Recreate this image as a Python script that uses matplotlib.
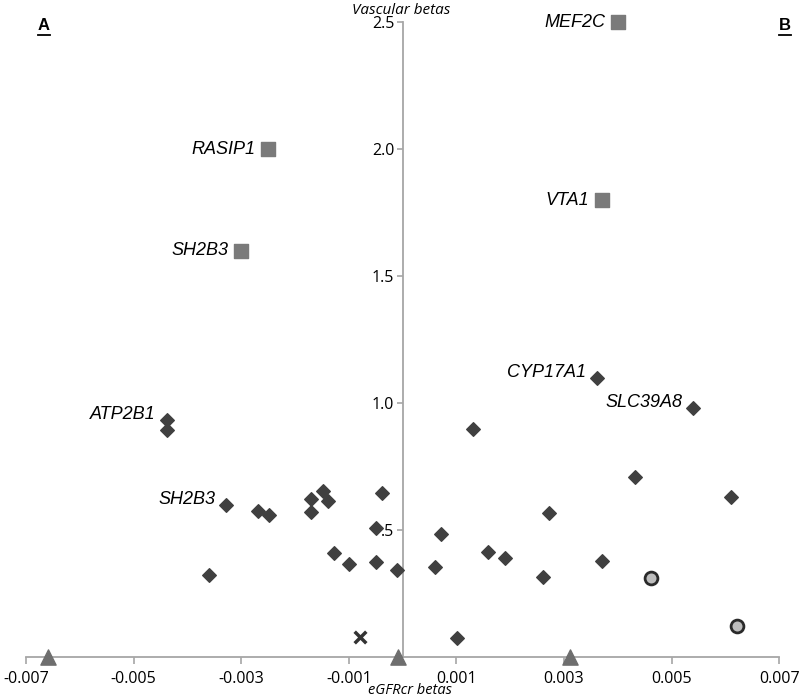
import numpy as np
import matplotlib.pyplot as plt
from matplotlib.lines import Line2D

# genes with vascular effect (squares)
sq_x = [0.0040, -0.0025, 0.0037, -0.0030]
sq_y = [2.50, 2.00, 1.80, 1.60]
sq_lab = ['MEF2C', 'RASIP1', 'VTA1', 'SH2B3']

# diamonds
dm_x = [0.00362, 0.00540, -0.00438, -0.00438, 0.00131, 0.00432, 0.00611, 0.00272,
        0.00071, 0.00159, 0.00191, 0.00061, 0.00261, 0.00371, -0.00010, 0.00101,
        -0.00328, -0.00269, -0.00248, -0.00170, -0.00170, -0.00148, -0.00138,
        -0.00038, -0.00049, -0.00127, -0.00099, -0.00049, -0.00360]
dm_y = [1.10, 0.98, 0.933, 0.894, 0.90, 0.709, 0.63, 0.567,
        0.484, 0.413, 0.39, 0.354, 0.315, 0.378, 0.343, 0.075,
        0.598, 0.575, 0.559, 0.622, 0.571, 0.654, 0.614,
        0.646, 0.508, 0.409, 0.366, 0.374, 0.323]
dm_lab = {0: 'CYP17A1', 1: 'SLC39A8', 2: 'ATP2B1', 16: 'SH2B3'}

# circles
ci_x = [0.00462, 0.00622]
ci_y = [0.311, 0.122]

# cross
cr_x = [-0.00079]
cr_y = [0.079]

# triangles on the axis
tr_x = [-0.00659, -0.00008, 0.00311]
tr_y = [0.0, 0.0, 0.0]

fig = plt.figure(figsize=(8, 6.96), dpi=100)
ax = fig.add_axes([0.0325, 0.056, 0.9415, 0.912])

ax.scatter(sq_x, sq_y, marker='s', s=95, color='#7a7a7a', zorder=3, clip_on=False)
ax.scatter(dm_x, dm_y, marker='D', s=48, color='#404040', zorder=3, clip_on=False)
ax.scatter(ci_x, ci_y, marker='o', s=85, facecolor='#bdbdbd', edgecolor='#2a2a2a',
           linewidth=2, zorder=3, clip_on=False)
ax.scatter(cr_x, cr_y, marker='x', s=70, color='#333333', linewidth=2.5, zorder=3)
ax.scatter(tr_x, tr_y, marker='^', s=120, color='#6e6e6e', zorder=4, clip_on=False)

lab_font = dict(family='Liberation Sans', style='italic', fontsize=13)
for x, y, t in zip(sq_x, sq_y, sq_lab):
    ax.annotate(t, (x, y), xytext=(-9, 0), textcoords='offset points',
                ha='right', va='center', **lab_font)
for i, t in dm_lab.items():
    ax.annotate(t, (dm_x[i], dm_y[i]), xytext=(-8, 4), textcoords='offset points',
                ha='right', va='center', **lab_font)

ax.set_xlim(-0.007, 0.007)
ax.set_ylim(0, 2.5)
for s in ['top', 'right']:
    ax.spines[s].set_visible(False)
ax.spines['left'].set_position(('data', 0))
ax.spines['bottom'].set_position(('data', 0))
for s in ['left', 'bottom']:
    ax.spines[s].set_color('#a6a6a6')
    ax.spines[s].set_linewidth(1.3)

xt = [-0.007, -0.005, -0.003, -0.001, 0.001, 0.003, 0.005, 0.007]
ax.set_xticks(xt)
ax.set_xticklabels(['%.3f' % v for v in xt], family='Open Sans', fontsize=11.5)
yt = [0.5, 1.0, 1.5, 2.0, 2.5]
ax.set_yticks(yt)
ax.set_yticklabels(['.5', '1.0', '1.5', '2.0', '2.5'], family='Open Sans', fontsize=11.5)
ax.tick_params(axis='x', direction='out', length=5, width=1.2, color='#a6a6a6', pad=5)
ax.tick_params(axis='y', direction='out', length=4, width=1.2, color='#a6a6a6', pad=2)

fig.text(0.501, 1 - 10 / 696, 'Vascular betas', ha='center', va='center',
         family='Open Sans', style='italic', fontsize=11)
fig.text(0.512, 1 - 690 / 696, 'eGFRcr betas', ha='center', va='center',
         family='Open Sans', style='italic', fontsize=10.5)

for px, t in [(44, 'A'), (785, 'B')]:
    fig.text(px / 800, 1 - 26 / 696, t, ha='center', va='center',
             family='Liberation Sans', weight='bold', fontsize=12)
    fig.add_artist(Line2D([(px - 6) / 800, (px + 6) / 800], [1 - 35 / 696] * 2,
                          color='black', linewidth=1.3))

fig.savefig('out.png', dpi=100)
